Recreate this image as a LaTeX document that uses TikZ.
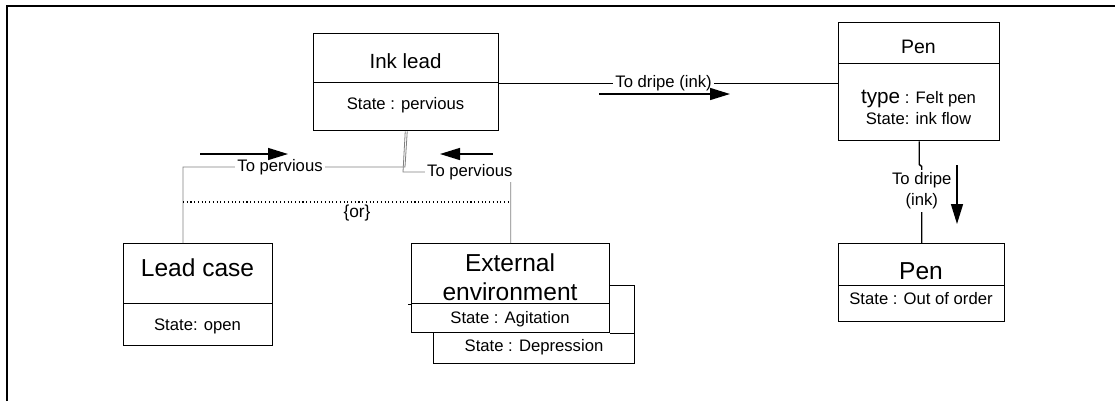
\documentclass[tikz,border=0pt]{standalone}
\usepackage{fontspec}
\setmainfont{Liberation Sans}
\usetikzlibrary{arrows.meta}
\tikzset{
  compart/.style={draw, line width=1.1pt, fill=white, inner sep=0pt, anchor=north west},
  statetxt/.style={font=\fontsize{12.5}{15}\selectfont, inner sep=0pt, anchor=base},
  nametxt/.style={font=\fontsize{15.4}{18}\selectfont, inner sep=0pt, anchor=base},
  bignametxt/.style={font=\fontsize{18.4}{22}\selectfont, inner sep=0pt, anchor=base},
  link/.style={draw=gray, line width=0.6pt},
  flow/.style={line width=1.1pt, -{Triangle[length=15pt, width=9pt]}},
  linklabel/.style={fill=white, inner sep=2pt, font=\fontsize{12.5}{15.75}\selectfont}
}
\begin{document}
\begin{tikzpicture}[x=0.75pt, y=-0.75pt]
    \useasboundingbox (0,0) rectangle (1115,401);
    \draw[line width=1.3pt] (6.8,401) -- (6.8,5.8) -- (1115,5.8);
    % ink lead
    \node[compart, minimum width=138.75pt, minimum height=36.75pt] (inkhead) at (313,33) {};
    \node[compart, minimum width=138.75pt, minimum height=36pt] (inkstate) at (313,82) {};
    \node[nametxt] (inkname) at (405.5,68) {Ink lead};
    \node[statetxt] (inkstatetxt) at (405.5,109) {State : pervious};
    % pen
    \node[compart, minimum width=120.75pt, minimum height=30.75pt] (penhead) at (838,22) {};
    \node[compart, minimum width=120.75pt, minimum height=57.75pt] (penstate) at (838,63) {};
    \node[statetxt, font=\fontsize{14.6}{17}\selectfont] (penname) at (918.5,53) {Pen};
    \node[statetxt] (pentype) at (918.5,103) {{\fontsize{15.5}{18}\selectfont type} : Felt pen};
    \node[statetxt] (penstatetxt) at (918.5,124) {State: ink flow};
    % pen out of order
    \node[compart, minimum width=124.5pt, minimum height=31.5pt] (pentwohead) at (838,243) {};
    \node[compart, minimum width=124.5pt, minimum height=27pt] (pentwostate) at (838,285) {};
    \node[bignametxt] (pentwoname) at (921,279) {Pen};
    \node[statetxt] (pentwostatetxt) at (921,304) {State : Out of order};
    % lead case
    \node[compart, minimum width=111.75pt, minimum height=45pt] (casehead) at (123,243) {};
    \node[compart, minimum width=111.75pt, minimum height=31.5pt] (casestate) at (123,303) {};
    \node[bignametxt] (casename) at (197.5,276) {Lead case};
    \node[statetxt] (casestatetxt) at (197.5,330) {State: open};
    % external environment
    \node[compart, minimum width=150.75pt, minimum height=58.5pt] (extback) at (433,285) {};
    \node[compart, minimum width=148.5pt, minimum height=45pt] (exthead) at (411,243) {};
    \node[compart, minimum width=148.5pt, minimum height=21.75pt] (extstate) at (411,303) {};
    \draw[line width=1.1pt] (extstate.south east) -- (extstate.south east -| extback.east);
    \draw[line width=1.1pt] ([xshift=-2.25pt]exthead.south west) -- (exthead.south west);
    \node[bignametxt] (extname) at (510,271) {External};
    \node[bignametxt] (extnametwo) at (510,300) {environment};
    \node[statetxt] (extstatetxt) at (510,323) {State : Agitation};
    \node[statetxt] (extbacktxt) at (534,351) {State : Depression};
    % links
    \draw[line width=1.1pt] (inkhead.south east) -- node[pos=0.485, linklabel] {To dripe (ink)} (inkhead.south east -| penstate.west);
    \draw[line width=1.1pt] (penstate.south) -- ++(0,23) -- ++(2.5,2) -- node[pos=0.32, linklabel, align=center] {To dripe\\(ink)} (pentwohead.north);
    \draw[link] ([xshift=45pt]casehead.north west) -- ++(0,-76) -- node[pos=0.437, linklabel] {To pervious} (405,167) -- ([xshift=0.75pt]inkstate.south);
    \draw[link] (exthead.north) -- ++(0,-71) -- node[pos=0.38, linklabel] {To pervious} (403,172) -- ([xshift=-0.75pt]inkstate.south);
    \coordinate (orleft) at (183,202);
    \coordinate (orright) at (510,202);
    \draw[dotted, line width=0.8pt] (orleft) -- (orright);
    \node[statetxt, font=\fontsize{13}{15}\selectfont] (ortxt) at (357,217) {\{or\}};
    % direction arrows
    \draw[flow] (200,154) -- (288,154);
    \draw[flow] (493,154) -- (440,154);
    \draw[flow] (599,94) -- (730,94);
    \draw[flow] (957,165) -- (957,224);
\end{tikzpicture}
\end{document}
